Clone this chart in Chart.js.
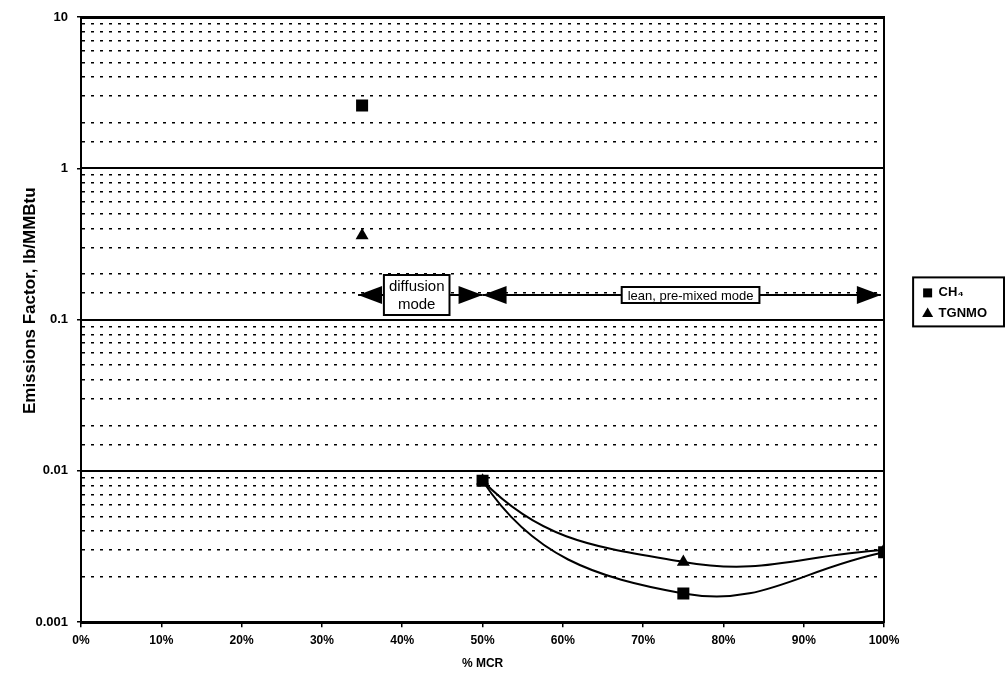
<!DOCTYPE html>
<html><head><meta charset="utf-8">
<script src="https://cdn.jsdelivr.net/npm/chart.js@4.4.0/dist/chart.umd.min.js"></script>
<style>html,body{margin:0;padding:0;background:#fff}</style>
</head><body>
<canvas id="c" width="1005" height="680"></canvas>
<script>
// ---- data ----
const mcrPercent = [35, 50, 75, 100];
const ch4Values = [2.6, 0.0086, 0.00155, 0.0029];
const tgnmoValues = [0.36, 0.0086, 0.0025, 0.003];
const seriesNames = ['CH\u2084', 'TGNMO'];
const xTickValues = [0, 10, 20, 30, 40, 50, 60, 70, 80, 90, 100];
const yTickValues = [0.001, 0.01, 0.1, 1, 10];
const yTickLabels = ['0.001', '0.01', '0.1', '1', '10'];
const xTitle = '% MCR';
const yTitle = '        Emissions Factor, lb/MMBtu';
const modeTexts = [['diffusion', 'mode'], ['lean, pre-mixed mode']];
const modeFrom = [34.5, 50];
const modeTo = [50, 99.6];
const modeBoxCenter = [41.8, 75.9];
const modeLevel = 0.145;

const FAM = '"Liberation Sans", Arial, sans-serif';
const ch4Points = mcrPercent.map((x, i) => ({x, y: ch4Values[i]}));
const tgPoints = mcrPercent.map((x, i) => ({x, y: tgnmoValues[i]}));

function majorIndex(v) {
  for (let i = 0; i < yTickValues.length; i++) {
    if (Math.abs(Math.log10(v) - Math.log10(yTickValues[i])) < 1e-6) return i;
  }
  return -1;
}

const modesPlugin = {
  id: 'modes',
  afterDatasetsDraw(chart) {
    const {ctx, scales: {x, y}} = chart;
    const yy = Math.round(y.getPixelForValue(modeLevel));
    ctx.save();
    ctx.strokeStyle = '#000'; ctx.fillStyle = '#000'; ctx.lineWidth = 2;
    const head = (tx, dir) => {
      ctx.beginPath();
      ctx.moveTo(tx, yy);
      ctx.lineTo(tx - dir * 24, yy - 9);
      ctx.lineTo(tx - dir * 24, yy + 9);
      ctx.closePath();
      ctx.fill();
    };
    for (let i = 0; i < modeTexts.length; i++) {
      const a = x.getPixelForValue(modeFrom[i]);
      const b = x.getPixelForValue(modeTo[i]);
      ctx.beginPath(); ctx.moveTo(a, yy); ctx.lineTo(b, yy); ctx.stroke();
      head(a, -1); head(b, 1);
      const lines = modeTexts[i];
      const fs = i === 0 ? 15 : 13;
      ctx.font = fs + 'px ' + FAM;
      const tw = Math.max(...lines.map(t => ctx.measureText(t).width));
      const bw = tw + (i === 0 ? 10 : 12);
      const lh = i === 0 ? 18 : 15;
      const bh = lines.length * lh + (i === 0 ? 4 : 1);
      const cx = x.getPixelForValue(modeBoxCenter[i]);
      ctx.fillStyle = '#fff';
      ctx.fillRect(cx - bw / 2, yy - bh / 2, bw, bh);
      ctx.strokeRect(cx - bw / 2, yy - bh / 2, bw, bh);
      ctx.fillStyle = '#000';
      ctx.textAlign = 'center'; ctx.textBaseline = 'middle';
      lines.forEach((t, k) => {
        ctx.fillText(t, cx, yy - bh / 2 + (i === 0 ? 2 : 0.5) + lh * (k + 0.5) + 1);
      });
    }
    ctx.restore();
  },
  afterDraw(chart) {
    const hb = chart.legend && chart.legend.legendHitBoxes;
    if (!hb || !hb.length) return;
    const ctx = chart.ctx;
    const l = Math.min(...hb.map(h => h.left)) - 10;
    const t = Math.min(...hb.map(h => h.top)) - 9;
    const r = Math.max(...hb.map(h => h.left + h.width)) + 17;
    const b = Math.max(...hb.map(h => h.top + h.height)) + 6;
    ctx.save();
    ctx.strokeStyle = '#000'; ctx.lineWidth = 2;
    ctx.strokeRect(l, t, r - l, b - t);
    ctx.restore();
  }
};

// the first segment (35% -> 50%) is not drawn; the curve only joins 50%, 75% and 100%
const hideFirstSegment = {borderColor: c => c.p0DataIndex === 0 ? 'rgba(0,0,0,0)' : undefined};

new Chart(document.getElementById('c'), {
  type: 'scatter',
  data: {
    datasets: [
      {label: seriesNames[0], data: ch4Points, showLine: true, pointStyle: 'rect', pointRadius: 8.5,
       pointBackgroundColor: '#000', pointBorderColor: '#000', pointBorderWidth: 0,
       backgroundColor: '#000', borderColor: '#000', borderWidth: 2, tension: 0.42, fill: false,
       segment: hideFirstSegment},
      {label: seriesNames[1], data: tgPoints, showLine: true, pointStyle: 'triangle', pointRadius: 7.5,
       pointBackgroundColor: '#000', pointBorderColor: '#000', pointBorderWidth: 0,
       backgroundColor: '#000', borderColor: '#000', borderWidth: 2, tension: 0.42, fill: false,
       segment: hideFirstSegment}
    ]
  },
  options: {
    responsive: false,
    animation: false,
    events: [],
    layout: {padding: {left: 6, top: 17, right: 8, bottom: 9}},
    plugins: {
      tooltip: {enabled: false},
      legend: {
        position: 'right',
        align: 'start',
        title: {display: true, text: '', font: {size: 12}, padding: {top: 247, bottom: 0}},
        labels: {
          usePointStyle: true, boxWidth: 9, boxHeight: 9, padding: 8,
          color: '#000', font: {family: FAM, size: 13, weight: 'bold'}
        }
      }
    },
    scales: {
      x: {
        type: 'linear', min: 0, max: 100, position: 'bottom',
        afterBuildTicks: s => { s.ticks = xTickValues.map(v => ({value: v})); },
        ticks: {autoSkip: false, maxRotation: 0, color: '#000', padding: 6,
                font: {family: FAM, size: 12, weight: 'bold'}, callback: v => v + '%'},
        grid: {drawOnChartArea: false, drawTicks: true, tickLength: 5, color: '#000', lineWidth: 1.5},
        border: {display: true, color: '#000', width: 3},
        title: {display: true, text: xTitle, color: '#000', padding: {top: 3, bottom: 0},
                font: {family: FAM, size: 12, weight: 'bold'}}
      },
      y: {
        type: 'logarithmic', min: 0.001, max: 10, position: 'left',
        afterFit: s => { s.width = 75; },
        ticks: {autoSkip: false, color: '#000', padding: 9,
                font: {family: FAM, size: 13, weight: 'bold'},
                callback: v => { const i = majorIndex(v); return i >= 0 ? yTickLabels[i] : ''; }},
        grid: {
          color: c => (c.tick && majorIndex(c.tick.value) >= 0) ? 'rgba(0,0,0,0)' : '#000',
          lineWidth: 1.5, drawTicks: true, tickLength: 4,
          tickColor: c => (c.tick && majorIndex(c.tick.value) >= 0) ? '#000' : 'rgba(0,0,0,0)'
        },
        border: {display: true, color: '#000', width: 2, dash: [3, 6]},
        title: {display: true, text: yTitle, color: '#000', padding: {top: 14, bottom: 0},
                font: {family: FAM, size: 17, weight: 'bold'}}
      },
      y2: {
        type: 'logarithmic', min: 0.001, max: 10, position: 'right',
        afterBuildTicks: s => { s.ticks = yTickValues.map(v => ({value: v})); },
        afterFit: s => { s.width = 31; },
        ticks: {display: false},
        grid: {drawTicks: false, color: '#000',
               lineWidth: c => (c.tick && c.tick.value === 10) ? 3 : 2},
        border: {display: true, color: '#000', width: 2}
      }
    }
  },
  plugins: [modesPlugin]
});
</script>
</body></html>
